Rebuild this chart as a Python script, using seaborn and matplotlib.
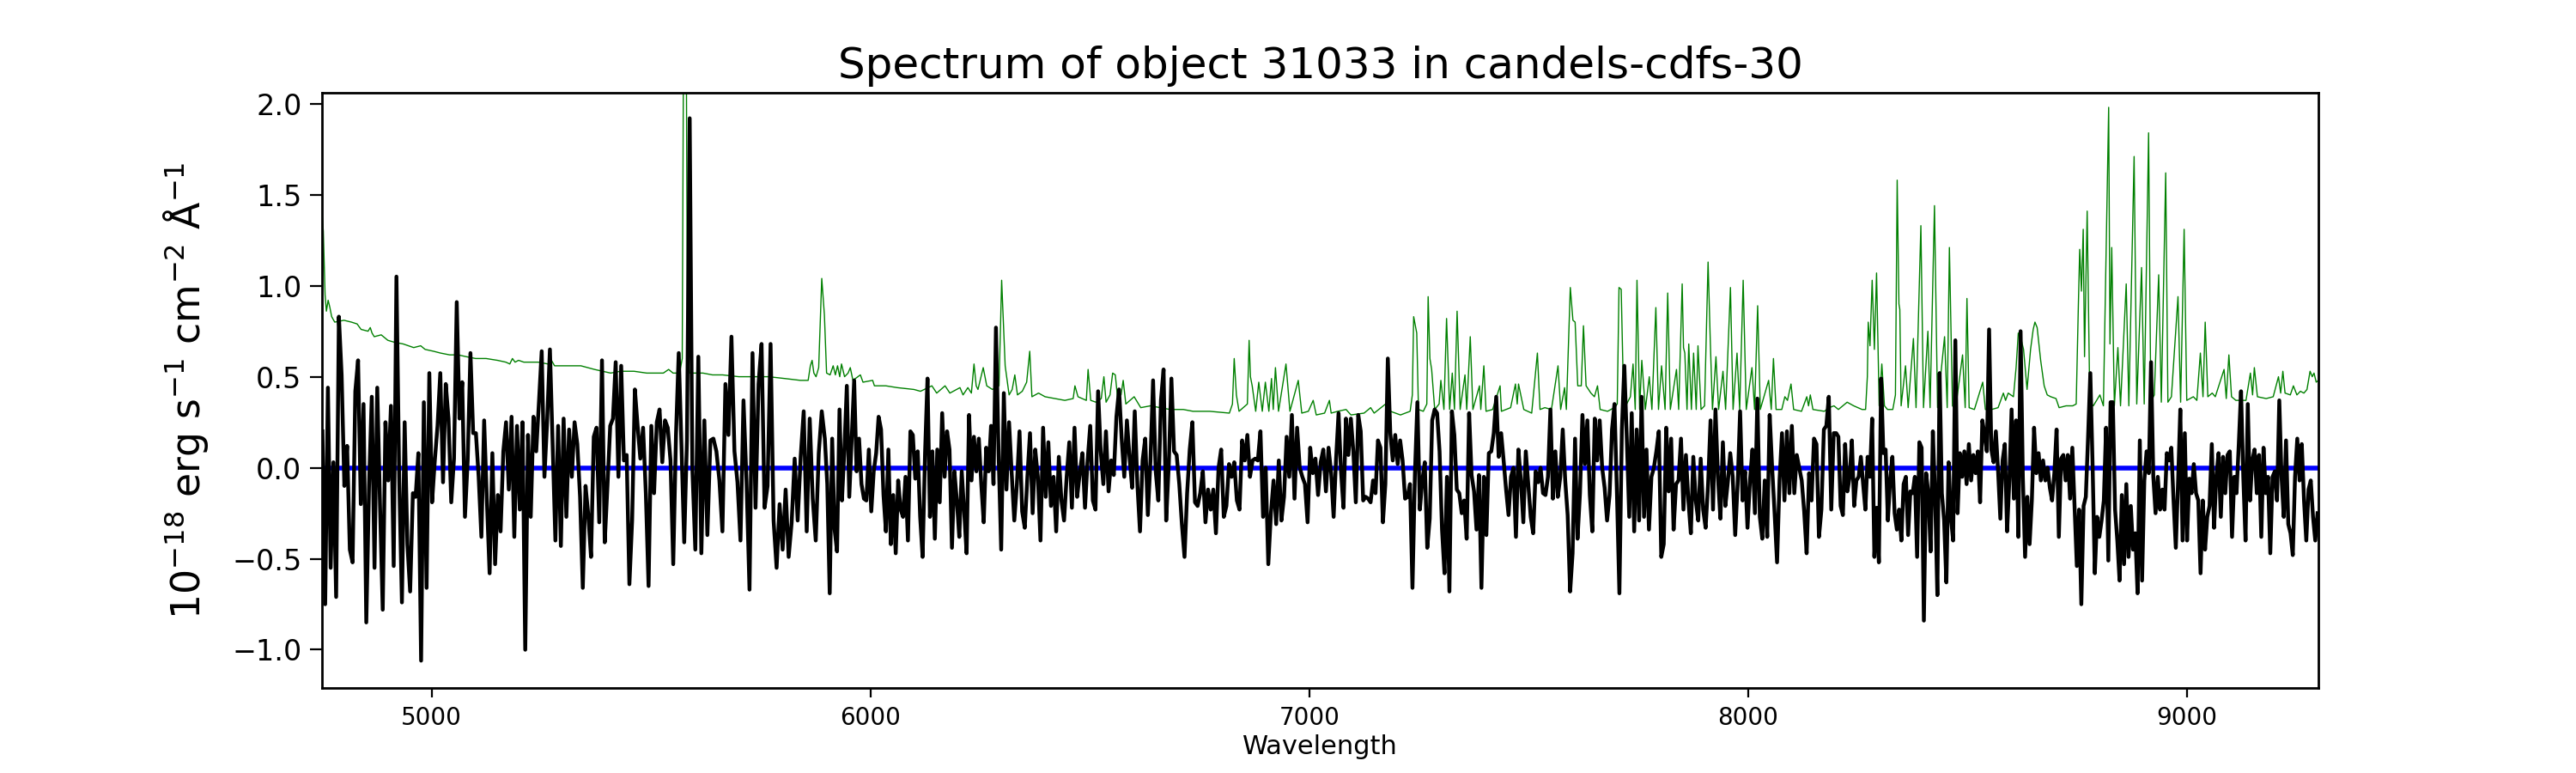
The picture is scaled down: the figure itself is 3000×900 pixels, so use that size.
import numpy as np
import pandas as pd
import matplotlib
matplotlib.use("Agg")
import matplotlib.pyplot as plt
import seaborn as sns

# ---------------- data ----------------
title_text = "Spectrum of object 31033 in candels-cdfs-30"
x_label = "Wavelength"
y_label = r"$10^{-18}$ erg s$^{-1}$ cm$^{-2}$ Å$^{-1}$"
x_ticks = [5000, 6000, 7000, 8000, 9000]
y_ticks = [-1.0, -0.5, 0.0, 0.5, 1.0, 1.5, 2.0]

flux_a = [0.2, -0.75, 0.44, -0.55, 0.03, -0.71, 0.83, 0.51, -0.1, 0.12,
          -0.45, -0.52, 0.42, 0.59, -0.2, 0.35, -0.85, -0.1, 0.39, -0.55,
          0.44, -0.2, -0.78, 0.25, -0.07, 0.34, -0.54, 1.05, -0.05, -0.74,
          0.25, -0.42, -0.68, -0.14, -0.16, 0.08, -1.06, 0.36, -0.66, 0.52,
          -0.19, 0.04, 0.23, 0.52, -0.08, 0.46, 0.27, -0.19, 0.05, 0.91,
          0.27, 0.47, -0.27, 0.04, 0.63, 0.19, 0.19, -0.05, -0.38, 0.26,
          -0.18, -0.58, 0.08, -0.53, -0.15, -0.35, 0.09, 0.25, -0.12, 0.28,
          -0.38, 0.23, -0.23, 0.25, -1.0, 0.18, -0.27, 0.28, 0.09, 0.36,
          0.64, -0.05, 0.26, 0.65, 0.13, -0.4, 0.23, -0.43, 0.27, -0.27,
          0.21, -0.05, 0.25, 0.13, -0.16, -0.66, -0.1, -0.26, -0.49, 0.17,
          0.22, -0.3, 0.59, -0.41, -0.1, 0.23, 0.27, 0.58, -0.05, 0.56,
          0.04, 0.07, -0.64, -0.29, 0.43, 0.23, 0.05, 0.22, -0.14, -0.65,
          0.23, -0.14, 0.25, 0.32, 0.03, 0.26, 0.22, 0.04, -0.53, 0.18,
          0.63, 0.12, -0.41, 0.15, 1.92]
flux_b = [0.0, -0.45, 0.61, -0.47, 0.26,
          -0.37, 0.15, 0.16, 0.09, -0.07, -0.35, 0.46, 0.18, 0.72, 0.09,
          -0.08, -0.4, 0.37, -0.07, -0.67, 0.63, -0.22, 0.46, 0.68, -0.22,
          -0.1, 0.68, -0.29, -0.55, -0.2, -0.45, -0.12, -0.49, -0.3, 0.05,
          -0.29, 0.06, 0.31, -0.35, 0.27, -0.17, -0.4, 0.08, 0.31]
flux_c = [0.16, -0.09, -0.69, 0.16, -0.34, -0.46, 0.32, -0.18, 0.1, 0.45,
          -0.16, 0.16, 0.48, -0.02, 0.16, -0.09, -0.17, -0.18, 0.1, -0.24,
          -0.02, 0.08, 0.28, 0.21, -0.15, -0.35, 0.1, -0.42, -0.15, -0.47,
          -0.07, -0.23, -0.27, -0.05, -0.4, 0.2, 0.18, -0.06, 0.09, -0.27,
          -0.49, 0.08, 0.49, -0.27, 0.09, -0.39, 0.1, -0.19, 0.3, -0.05,
          0.2, 0.1, -0.44, -0.02, -0.18, -0.38, -0.02, -0.24, -0.47, 0.29,
          -0.07, 0.17, -0.02, 0.16, -0.09, -0.3, 0.11, -0.02, 0.23, -0.09,
          0.77]
flux_d = [0.08, -0.45, 0.41, -0.12, 0.25, -0.03, -0.29, -0.09, 0.2,
          -0.24, -0.33, -0.05, 0.19, -0.25, 0.1, -0.05, -0.4, 0.22, -0.16,
          0.14, -0.21, -0.05, -0.35, 0.06, -0.18, -0.29, -0.05, 0.14, -0.22,
          0.22, -0.16, -0.03, 0.08, -0.22, 0.04, 0.23, -0.18, -0.23, 0.42,
          0.09, -0.09, 0.2, -0.13, 0.04, -0.04, 0.28, 0.43, 0.16, -0.05,
          0.26, 0.06, -0.11, 0.31, -0.09, -0.35, 0.04, 0.16, -0.26, 0.04,
          0.48, -0.02, -0.18, 0.37, 0.54, -0.29, 0.02, 0.49, 0.09, 0.07,
          -0.09, -0.31, -0.49, -0.14, 0.1, 0.25, -0.19, -0.21, -0.14, -0.02,
          -0.3, -0.12, -0.23, -0.12, -0.36, 0.0, 0.1, -0.27, -0.21, 0.02,
          -0.05, 0.03, -0.18, -0.23, 0.15, 0.04, 0.18, -0.05, 0.04, 0.05,
          0.04, 0.2, -0.27, 0.0, -0.53, -0.25, -0.07, -0.31, 0.04, -0.29,
          -0.16, 0.17, -0.05, 0.29, -0.17, 0.22, 0.0, -0.05, -0.09, -0.3,
          0.11, -0.03, 0.05, -0.15, 0.03, 0.1, -0.13, 0.11]
flux_e = [-0.03, -0.27, 0.05, 0.3, -0.02, -0.22, 0.27, 0.07, 0.27, 0.09,
          -0.19, 0.29, 0.2, -0.18, -0.16, -0.17, -0.19, -0.07, -0.14, 0.15,
          0.11, -0.3, -0.09, 0.6, 0.19, 0.04, 0.18, 0.02, 0.15, 0.04,
          -0.17, -0.16, -0.09, -0.66, -0.03, 0.36, -0.23, -0.07, 0.03, -0.44,
          -0.28, 0.26, 0.32, 0.3, 0.09, -0.34, -0.58, -0.05, -0.68, 0.31,
          0.18, -0.12, -0.14, -0.25, -0.18, -0.39, 0.3, -0.04, -0.13, -0.34,
          -0.04, -0.66, -0.05, -0.37, 0.08, 0.09, 0.19, 0.39, 0.06, 0.19,
          0.04, -0.12, -0.26, -0.05, 0.0, -0.38, 0.1, -0.07, -0.3, 0.09,
          -0.09, -0.27, -0.36, -0.02, -0.08, 0.0, -0.14, -0.15, -0.05, 0.32,
          -0.17, 0.09, -0.16, -0.05, 0.21, -0.07, -0.26, -0.68, -0.47, 0.16,
          -0.39, -0.14, 0.29, 0.02, 0.26, -0.15, -0.35, 0.27, 0.04, 0.26,
          0.0, -0.11, -0.29, -0.15, 0.21, 0.35, -0.14, -0.69, 0.21, 0.56,
          0.16, -0.27, 0.3, -0.35, 0.21, -0.29, 0.39, -0.27, 0.1, -0.34,
          -0.05, 0.0, 0.09, 0.2, -0.49, -0.42, 0.22, -0.13, 0.16, -0.34,
          -0.09, -0.07, 0.16, -0.23, 0.07, -0.18, -0.36, 0.06, -0.18, -0.29,
          0.05, -0.23, -0.33, -0.09, 0.26, -0.23, 0.32, -0.05, -0.28, 0.14,
          -0.21, -0.08, 0.08, -0.05, -0.37, -0.09, 0.31, -0.18, -0.02, -0.33,
          -0.07, 0.1, -0.25, 0.38, -0.27, -0.39, -0.07, -0.38, 0.29, 0.0,
          -0.25, -0.52, -0.07, 0.19, -0.18, 0.2, -0.14, 0.23, -0.14, 0.07,
          0.0, -0.07, -0.24, -0.47, -0.03, -0.18, 0.16, 0.13, -0.38, -0.23,
          0.21, 0.23, 0.39, -0.23, 0.19, 0.19]
flux_f = [0.17, -0.21, -0.26, 0.13, -0.13, -0.05, 0.15, -0.21, -0.07, -0.05,
          0.06, -0.09, -0.23, 0.06, -0.05, 0.27, -0.49, -0.22, -0.52, 0.49,
          0.08, 0.1, -0.29, -0.07, 0.06, -0.25, -0.34, -0.23, -0.4, -0.09,
          -0.05, -0.37, -0.13, -0.14, -0.05, -0.49, 0.14, 0.11, -0.84, -0.03,
          -0.14, -0.46, 0.2, -0.16, -0.7, 0.52, -0.14, -0.29, -0.63, 0.03,
          -0.27, -0.4, 0.7, -0.25, 0.08, -0.05, 0.09, -0.09, 0.13, -0.07,
          0.07, -0.03, 0.09, -0.19, 0.26, 0.18, 0.09, 0.76, 0.1, 0.03,
          0.2, -0.02, -0.28, 0.04, 0.13, -0.35, -0.07, 0.32, -0.17, 0.26,
          -0.38, 0.75, -0.05, -0.49, -0.16, -0.42, -0.18, 0.22, -0.03, 0.08,
          -0.07, 0.04, -0.07, 0.0, -0.11, -0.18, -0.03, 0.21, -0.38, 0.05,
          0.07, -0.07, 0.07, -0.17, 0.11, -0.21, -0.54, -0.23, -0.75, -0.21,
          -0.16, 0.17, 0.52, 0.02, -0.58, -0.27, -0.38, -0.29, -0.18, 0.22,
          -0.51, 0.36, 0.36, -0.23, -0.4, -0.62, -0.15, -0.53, -0.09, -0.49,
          -0.21, -0.45, -0.36, -0.69, 0.15, -0.62, -0.07, 0.09, -0.03, 0.58,
          -0.05, -0.25, -0.05, -0.23, -0.12, -0.23, 0.08, 0.04, 0.11, -0.18,
          -0.44, -0.08, 0.32, -0.4, 0.19, -0.4, -0.06, -0.14, 0.02, -0.14,
          -0.18, -0.58, -0.18, -0.45, -0.27, -0.21, 0.13, -0.33, -0.05, 0.08,
          -0.27, 0.06, -0.14, 0.07, 0.09, -0.38, -0.05, -0.14, 0.13, 0.42,
          -0.05, -0.4, 0.35, -0.18, 0.04, 0.1, -0.14, 0.07, -0.38, 0.11,
          -0.14, -0.05, -0.47, -0.05, -0.02, -0.18, 0.37, -0.05, -0.27, 0.15,
          -0.31, -0.36, -0.48, -0.05, 0.16, -0.07, 0.13, -0.18, -0.4, -0.12,
          -0.07, -0.27, -0.4, -0.25]
flux_pieces = [flux_a, flux_b, flux_c, flux_d, flux_e, flux_f]
piece_ranges = [(4751, 5588), (5594, 5889), (5896, 6286),
                (6292, 7044), (7050, 8201), (8206, 9298)]

# sky spectrum (wavelength, value)
sky_wave = [4750, 4753, 4757, 4760, 4764, 4768, 4772, 4779, 4800, 4817, 4830, 4839,
            4855, 4860, 4864, 4869, 4885, 4900, 4914, 4935, 4959, 4975, 4985, 5004,
            5020, 5041, 5060, 5079, 5100, 5124, 5150, 5169, 5178, 5184, 5190, 5198,
            5210, 5243, 5265, 5273, 5280, 5318, 5340, 5371, 5390, 5408, 5430, 5461,
            5490, 5528, 5540, 5550, 5565, 5571, 5574, 5577, 5580, 5583, 5588, 5618,
            5640, 5663, 5700, 5730, 5768, 5805, 5840, 5858, 5863, 5867, 5871, 5876,
            5882, 5889, 5895, 5900, 5908, 5915, 5920, 5925, 5930, 5934, 5941, 5949,
            5954, 5960, 5977, 5983, 6005, 6009, 6035, 6061, 6099, 6114, 6140, 6151,
            6170, 6181, 6204, 6211, 6222, 6230, 6236, 6241, 6245, 6257, 6265, 6278,
            6293, 6299, 6302, 6307, 6316, 6323, 6329, 6335, 6346, 6356, 6363, 6368,
            6383, 6398, 6421, 6443, 6462, 6466, 6473, 6492, 6496, 6502, 6514, 6526,
            6532, 6537, 6546, 6552, 6558, 6563, 6571, 6576, 6582, 6601, 6616, 6638,
            6660, 6683, 6713, 6735, 6773, 6818, 6825, 6829, 6834, 6840, 6859, 6863,
            6866, 6870, 6878, 6885, 6893, 6900, 6908, 6914, 6918, 6923, 6930, 6947,
            6956, 6975, 6983, 6998, 7009, 7016, 7035, 7046,
            7050, 7065, 7084, 7095, 7125, 7140, 7148, 7174, 7185, 7208, 7230, 7235,
            7238, 7245, 7249, 7260, 7268, 7271, 7275, 7279, 7286, 7296, 7300, 7307,
            7313, 7320, 7326, 7331, 7337, 7344, 7355, 7359, 7367, 7373, 7388, 7391,
            7398, 7403, 7418, 7435, 7438, 7459, 7470, 7474, 7477, 7489, 7507, 7520,
            7526, 7537, 7552, 7567, 7573, 7582, 7586, 7595, 7601, 7606, 7612, 7620,
            7625, 7631, 7642, 7650, 7657, 7663, 7680, 7695, 7702, 7706, 7711, 7717,
            7732, 7738, 7743, 7747, 7753, 7758, 7766, 7775, 7781, 7790, 7796, 7803,
            7811, 7817, 7823, 7837, 7842, 7850, 7853, 7856, 7861, 7865, 7871, 7876,
            7882, 7886, 7893, 7901, 7909, 7914, 7919, 7927, 7933, 7943, 7949, 7960,
            7966, 7975, 7981, 7989, 7996, 8009, 8015, 8022, 8028, 8047, 8053, 8058,
            8064, 8077, 8084, 8090, 8098, 8104, 8122, 8134, 8138, 8142, 8148, 8174,
            8185, 8196,
            8206, 8226, 8241, 8260, 8268, 8272, 8274, 8278, 8283, 8288, 8293, 8299,
            8305, 8311, 8318, 8330, 8336, 8340, 8344, 8346, 8349, 8359, 8365, 8377,
            8383, 8394, 8400, 8410, 8415, 8425, 8432, 8448, 8454, 8459, 8466, 8473,
            8489, 8495, 8499, 8504, 8516, 8535, 8541, 8555, 8570, 8582, 8587, 8593,
            8605, 8611, 8616, 8623, 8628, 8636, 8644, 8650, 8654, 8659, 8667, 8675,
            8682, 8690, 8702, 8709, 8725, 8740, 8748, 8753, 8756, 8760, 8764, 8767,
            8773, 8779, 8787, 8802, 8810, 8822, 8825, 8829, 8835, 8843, 8849, 8862,
            8868, 8880, 8886, 8897, 8903, 8913, 8918, 8926, 8936, 8942, 8952, 8957,
            8965, 8980, 8986, 8994, 9000, 9015, 9023, 9031, 9037, 9042, 9048, 9058,
            9065, 9085, 9090, 9096, 9102, 9112, 9135, 9145, 9150, 9154, 9161, 9181,
            9197, 9209, 9214, 9219, 9224, 9236, 9243, 9251, 9259, 9267, 9274, 9281,
            9286, 9290, 9295, 9300]
sky_flux = [1.40, 1.30, 0.95, 0.86, 0.92, 0.88, 0.83, 0.80, 0.81, 0.80, 0.79, 0.76,
            0.75, 0.77, 0.74, 0.72, 0.73, 0.70, 0.69, 0.68, 0.66, 0.67, 0.65, 0.64,
            0.63, 0.62, 0.62, 0.61, 0.60, 0.60, 0.59, 0.58, 0.57, 0.60, 0.58, 0.59,
            0.58, 0.58, 0.57, 0.59, 0.56, 0.56, 0.56, 0.54, 0.53, 0.52, 0.53, 0.53,
            0.52, 0.52, 0.54, 0.52, 0.52, 0.60, 2.50, 3.20, 2.50, 0.60, 0.52, 0.52,
            0.51, 0.51, 0.50, 0.50, 0.50, 0.49, 0.48, 0.48, 0.56, 0.59, 0.52, 0.50,
            0.55, 1.04, 0.84, 0.52, 0.51, 0.56, 0.51, 0.56, 0.50, 0.57, 0.50, 0.52,
            0.55, 0.48, 0.51, 0.47, 0.48, 0.45, 0.45, 0.44, 0.43, 0.42, 0.45, 0.41,
            0.45, 0.41, 0.44, 0.40, 0.44, 0.41, 0.57, 0.45, 0.43, 0.55, 0.45, 0.43,
            0.45, 1.03, 0.85, 0.56, 0.40, 0.43, 0.51, 0.40, 0.42, 0.47, 0.64, 0.39,
            0.41, 0.39, 0.38, 0.37, 0.38, 0.45, 0.39, 0.37, 0.54, 0.37, 0.36, 0.38,
            0.50, 0.36, 0.40, 0.52, 0.51, 0.39, 0.40, 0.48, 0.35, 0.39, 0.33, 0.34,
            0.33, 0.32, 0.32, 0.31, 0.31, 0.30, 0.35, 0.60, 0.40, 0.31, 0.35, 0.70,
            0.50, 0.45, 0.31, 0.47, 0.31, 0.47, 0.31, 0.49, 0.32, 0.55, 0.31, 0.57,
            0.31, 0.48, 0.30, 0.31, 0.37, 0.29, 0.30, 0.37,
            0.30, 0.31, 0.32, 0.29, 0.30, 0.33, 0.30, 0.35, 0.31, 0.29, 0.31, 0.40,
            0.83, 0.74, 0.32, 0.31, 0.35, 0.94, 0.60, 0.54, 0.32, 0.35, 0.48, 0.32,
            0.82, 0.32, 0.52, 0.32, 0.86, 0.32, 0.51, 0.32, 0.72, 0.32, 0.45, 0.32,
            0.56, 0.31, 0.32, 0.45, 0.31, 0.33, 0.46, 0.35, 0.46, 0.32, 0.30, 0.63,
            0.32, 0.33, 0.32, 0.56, 0.32, 0.44, 0.32, 0.99, 0.81, 0.80, 0.45, 0.45,
            0.78, 0.45, 0.41, 0.39, 0.45, 0.32, 0.31, 0.33, 0.35, 0.99, 0.98, 0.32,
            0.39, 0.57, 0.32, 1.03, 0.32, 0.59, 0.32, 0.50, 0.32, 0.88, 0.32, 0.56,
            0.32, 0.96, 0.32, 0.54, 0.32, 1.01, 0.66, 0.63, 0.32, 0.68, 0.32, 0.63,
            0.32, 0.67, 0.32, 0.34, 1.13, 0.70, 0.32, 0.61, 0.32, 0.53, 0.32, 0.99,
            0.32, 0.63, 0.32, 1.03, 0.32, 0.55, 0.32, 0.89, 0.32, 0.48, 0.32, 0.60,
            0.32, 0.32, 0.39, 0.37, 0.46, 0.32, 0.31, 0.39, 0.34, 0.40, 0.32, 0.31,
            0.33, 0.34,
            0.32, 0.36, 0.34, 0.32, 0.32, 0.50, 0.80, 0.67, 1.03, 0.65, 1.07, 0.34,
            0.57, 0.34, 0.32, 0.32, 0.40, 1.58, 0.90, 0.87, 0.34, 0.56, 0.33, 0.71,
            0.33, 1.33, 0.33, 0.75, 0.33, 1.44, 0.33, 0.72, 0.33, 1.21, 0.34, 0.32,
            0.62, 0.33, 0.93, 0.33, 0.32, 0.47, 0.32, 0.32, 0.33, 0.41, 0.37, 0.41,
            0.39, 0.55, 0.74, 0.70, 0.65, 0.43, 0.65, 0.76, 0.80, 0.77, 0.59, 0.45,
            0.40, 0.39, 0.38, 0.33, 0.34, 0.34, 0.35, 0.90, 1.20, 0.97, 1.31, 0.61,
            1.41, 0.36, 0.34, 0.40, 0.34, 1.98, 0.68, 1.21, 0.34, 0.66, 0.34, 1.01,
            0.34, 1.71, 0.35, 1.10, 0.35, 1.84, 0.36, 0.40, 1.06, 0.36, 1.62, 0.36,
            0.39, 0.94, 0.36, 1.31, 0.37, 0.39, 0.37, 0.63, 0.39, 0.80, 0.39, 0.41,
            0.39, 0.54, 0.38, 0.62, 0.39, 0.37, 0.37, 0.52, 0.40, 0.55, 0.39, 0.38,
            0.39, 0.50, 0.41, 0.53, 0.41, 0.40, 0.45, 0.40, 0.42, 0.41, 0.43, 0.53,
            0.50, 0.52, 0.47, 0.48]

x_range = (4750, 9300)
y_range = (-1.21, 2.06)

# ---------------- build frames ----------------
obj_wave = np.concatenate([np.linspace(a, b, len(f))
                           for (a, b), f in zip(piece_ranges, flux_pieces)])
obj_flux = np.concatenate([np.asarray(f, float) for f in flux_pieces])
obj_df = pd.DataFrame({"wave": obj_wave, "flux": obj_flux})
sky_df = pd.DataFrame({"wave": sky_wave, "flux": sky_flux})

# ---------------- plot ----------------
plt.rcParams["font.family"] = ["DejaVu Sans"]
fig, ax = plt.subplots(figsize=(15, 4.5), dpi=200)
fig.subplots_adjust(left=0.125, right=0.9, bottom=0.11, top=0.88)

sns.lineplot(data=sky_df, x="wave", y="flux", ax=ax, color="g", lw=0.5,
             estimator=None, sort=False, zorder=1)
ax.axhline(0.0, color="b", lw=2, zorder=2)
sns.lineplot(data=obj_df, x="wave", y="flux", ax=ax, color="k", lw=1.6,
             estimator=None, sort=False, zorder=3)

ax.set_xlim(*x_range)
ax.set_ylim(*y_range)
ax.set_xticks(x_ticks)
ax.set_yticks(y_ticks)
ax.tick_params(axis="y", labelsize=12, length=5)
ax.tick_params(axis="x", labelsize=10, length=4)
ax.set_title(title_text, fontsize=18)
ax.set_xlabel(x_label, fontsize=11, labelpad=2)
ax.set_ylabel(y_label, fontsize=16.5, labelpad=9)
for s in ax.spines.values():
    s.set_linewidth(1.0)

fig.savefig("out.png", dpi=200)
